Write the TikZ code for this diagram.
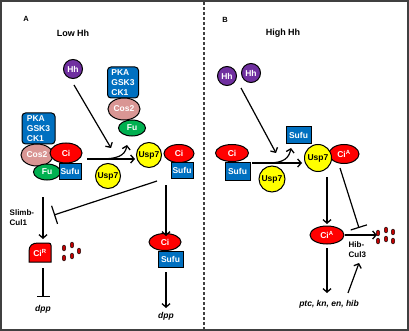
\documentclass[tikz,border=0pt]{standalone}
\usepackage{fontspec}
\setmainfont{Liberation Sans}
\usetikzlibrary{shapes.geometric,arrows.meta}
\definecolor{hhpurple}{HTML}{7030A0}
\definecolor{pkablue}{HTML}{0070C0}
\definecolor{cospink}{HTML}{D99694}
\definecolor{fugreen}{HTML}{00B050}
\definecolor{usyellow}{HTML}{FFFF00}
\definecolor{cired}{HTML}{FF0000}
\definecolor{dotred}{HTML}{C00000}
\definecolor{framegray}{HTML}{404040}
\begin{document}
\begin{tikzpicture}[x=1pt,y=-1pt,
  lbl/.style={font=\fontsize{8}{10}\selectfont\bfseries, inner sep=0pt},
  mol/.style={draw=black, line width=1pt, inner sep=0pt, font=\fontsize{8.5}{10}\selectfont\bfseries},
  hh/.style={mol, circle, fill=hhpurple, text=white, minimum size=19pt},
  usp/.style={mol, circle, fill=usyellow, text=black, minimum size=25pt},
  ci/.style={mol, ellipse, fill=cired, text=white},
  cos/.style={mol, ellipse, fill=cospink, text=white, minimum width=32pt, minimum height=22pt},
  fu/.style={mol, ellipse, fill=fugreen, text=white, minimum width=27pt, minimum height=16pt},
  sufu/.style={mol, rectangle, fill=pkablue, text=white, minimum width=24pt, minimum height=16pt},
  kin/.style={mol, rectangle, rounded corners=3.5pt, fill=pkablue, text=white, align=left, minimum width=31pt, minimum height=31pt},
  dot/.style={draw=black, line width=0.4pt, fill=dotred, ellipse, minimum width=3.6pt, minimum height=6pt, inner sep=0pt},
  arr/.style={line width=1.2pt, -{Straight Barb[length=3.5pt,width=8pt,line width=1.3pt]}},
  inh/.style={line width=1.2pt, -{Bar[width=17pt,line width=1.2pt]}},
  gene/.style={font=\fontsize{8.5}{10}\selectfont\bfseries\itshape, inner sep=0pt},
]
\useasboundingbox (0,0) rectangle (409,331);
\draw[framegray, line width=2pt] (1,1) rectangle (408,330);
\draw[framegray, line width=1.5pt, dash pattern=on 3pt off 2pt] (204,2) -- (204,329);

% ---------------- Panel A ----------------
\node[lbl, font=\fontsize{7.5}{8}\selectfont\bfseries] (labA) at (26,19) {A};
\node[lbl, font=\fontsize{9}{10}\selectfont\bfseries] (lowhh) at (73,33) {Low Hh};
\node[hh] (hhA) at (73,69) {Hh};

% top complex
\node[kin] (pkaT) at (123,82.5) {PKA\\GSK3\\CK1};
\node[cos] (cosT) at (124,109) {Cos2};
\node[fu] (fuT) at (132,128) {Fu};

% left complex
\node[kin, minimum width=33pt] (pkaL) at (38.5,128.5) {PKA\\GSK3\\CK1};
\node[cos] (cosL) at (37,155) {Cos2};
\node[ci, minimum width=32pt, minimum height=20pt] (ciL) at (66,153) {Ci};
\node[fu] (fuL) at (47,172) {Fu};
\node[sufu, minimum width=22pt, minimum height=15pt] (sufuL) at (70,171.5) {Sufu};

% free Usp7
\node[usp] (uspFA) at (108,176) {Usp7};

% right complex
\node[ci, minimum width=30pt, minimum height=18pt] (ciRA) at (179,153.5) {Ci};
\node[usp] (uspA) at (149,155) {Usp7};
\node[sufu, minimum width=22pt, minimum height=15pt] (sufuRA) at (182,170.5) {Sufu};

% bottom Ci-Sufu
\node[ci, minimum width=32pt, minimum height=17pt] (ciBA) at (165,242) {Ci};
\node[sufu, minimum width=25pt, minimum height=16pt] (sufuBA) at (170.5,259) {Sufu};

% Ci repressor
\path[draw=black, line width=1pt, fill=cired] (51,262) -- (29,262) -- (29,251)
  .. controls (29,245.5) and (32.5,243) .. (38,243) -- (48.5,243)
  .. controls (50.3,243) and (51,244) .. (51,245.5) -- cycle;
\node[lbl, font=\fontsize{8.5}{10}\selectfont\bfseries, text=white] (ciR) at (40,253) {Ci\textsuperscript{R}};

% degradation dots A
\node[dot] (dA1) at (64,248) {};
\node[dot] (dA2) at (72,245) {};
\node[dot] (dA3) at (79,251) {};
\node[dot] (dA4) at (72,256) {};
\node[dot] (dA5) at (64,258) {};

\node[lbl, align=left, anchor=west] (slimb) at (9.5,217.5) {Slimb-\\Cul1};
\node[gene] (dppL) at (43,309) {dpp};
\node[gene] (dppR) at (166,316) {dpp};

% connectors A
\coordinate (a1s) at (74,85);   \coordinate (a1e) at (111,148);
\coordinate (a2s) at (87,159);  \coordinate (a2e) at (135,159);
\coordinate (a3s) at (100,159); \coordinate (a3e) at (127,145);
\coordinate (a4s) at (157,181); \coordinate (a4e) at (54,215);
\coordinate (a5s) at (43,197);  \coordinate (a5e) at (43,239);
\coordinate (a6s) at (166,185); \coordinate (a6e) at (166,236);
\coordinate (a7s) at (43,268);  \coordinate (a7e) at (43,297);
\coordinate (a8s) at (166,272); \coordinate (a8e) at (166,308);
\draw[arr] (a1s) -- (a1e);
\draw[arr] (a2s) -- (a2e);
\draw[arr] (a3s) .. controls (117,159) and (125,156) .. (a3e);
\draw[inh, -{Bar[width=19pt,line width=1.2pt]}] (a4s) -- (a4e);
\draw[arr] (a5s) -- (a5e);
\draw[arr] (a6s) -- (a6e);
\draw[inh, -{Bar[width=13pt,line width=1.2pt]}] (a7s) -- (a7e);
\draw[arr] (a8s) -- (a8e);

% ---------------- Panel B ----------------
\node[lbl, font=\fontsize{7.5}{8}\selectfont\bfseries] (labB) at (225,20) {B};
\node[lbl, font=\fontsize{9}{10}\selectfont\bfseries] (highhh) at (283,33) {High Hh};
\node[hh] (hhB1) at (227,76) {Hh};
\node[hh] (hhB2) at (251,73) {Hh};

\node[sufu, minimum width=25pt, minimum height=17pt] (sufuTB) at (298.5,135.5) {Sufu};
\node[ci, minimum width=33pt, minimum height=17pt] (ciB) at (232,153) {Ci};
\node[sufu, minimum width=25pt, minimum height=17pt] (sufuB) at (237.5,171.5) {Sufu};
\node[usp, minimum size=26pt] (uspFB) at (272,179) {Usp7};

\node[ci, minimum width=30pt, minimum height=19pt] (ciAB) at (344,154) {Ci\textsuperscript{A}};
\node[usp, minimum size=27pt] (uspB) at (318,158) {Usp7};

\node[ci, minimum width=34pt, minimum height=18pt] (ciA2) at (327,235) {Ci\textsuperscript{A}};

\node[dot] (dB1) at (378,233) {};
\node[dot] (dB2) at (386,230) {};
\node[dot] (dB3) at (393,232) {};
\node[dot] (dB4) at (378,241) {};
\node[dot] (dB5) at (386,239) {};
\node[dot] (dB6) at (393,241) {};

\node[lbl, align=left, anchor=west] (hib) at (348.5,249.5) {Hib-\\Cul3};
\node[gene] (targets) at (329,304) {ptc, kn, en, hib};

\coordinate (b1s) at (241,88);  \coordinate (b1e) at (276,153);
\coordinate (b2s) at (252,163); \coordinate (b2e) at (302,163);
\coordinate (b3s) at (268,163); \coordinate (b3e) at (291,148);
\coordinate (b4s) at (327,177); \coordinate (b4e) at (327,224);
\coordinate (b5s) at (340,168); \coordinate (b5e) at (359,228);
\coordinate (b6s) at (345,235); \coordinate (b6e) at (377,235);
\coordinate (b7s) at (327,248); \coordinate (b7e) at (327,293);
\coordinate (b8s) at (348,293); \coordinate (b8e) at (359,263);
\draw[arr] (b1s) -- (b1e);
\draw[arr] (b2s) -- (b2e);
\draw[arr] (b3s) .. controls (284,163) and (289,158) .. (b3e);
\draw[arr] (b4s) -- (b4e);
\draw[inh] (b5s) -- (b5e);
\draw[arr] (b6s) -- (b6e);
\draw[arr] (b7s) -- (b7e);
\draw[arr] (b8s) -- (b8e);
\end{tikzpicture}
\end{document}
